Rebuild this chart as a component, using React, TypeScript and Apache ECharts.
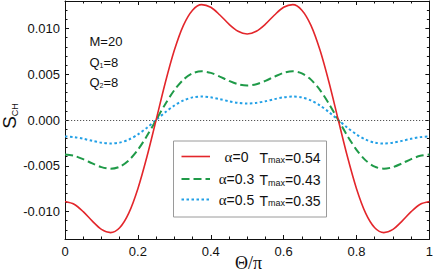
import React, { useEffect, useRef } from "react";
import * as echarts from "echarts";

const theta = [
  0, 0.025, 0.05, 0.075, 0.1, 0.125, 0.15, 0.175, 0.2, 0.225, 0.25,
  0.275, 0.3, 0.325, 0.35, 0.375, 0.4, 0.425, 0.45, 0.475, 0.5,
  0.525, 0.55, 0.575, 0.6, 0.625, 0.65, 0.675, 0.7, 0.725, 0.75,
  0.775, 0.8, 0.825, 0.85, 0.875, 0.9, 0.925, 0.95, 0.975, 1,
];

const sAlpha0 = [
  -0.0089, -0.0092, -0.01001, -0.01105, -0.01195, -0.0123, -0.01177, -0.01017, -0.0075, -0.00399, 0,
  0.00404, 0.00761, 0.01034, 0.012, 0.0126, 0.01231, 0.01147, 0.01047, 0.00969, 0.0094,
  0.00969, 0.01047, 0.01147, 0.01231, 0.0126, 0.012, 0.01034, 0.00761, 0.00404, 0,
  -0.00399, -0.0075, -0.01017, -0.01177, -0.0123, -0.01195, -0.01105, -0.01001, -0.0092, -0.0089,
];

const sAlpha03 = [
  -0.00378, -0.00391, -0.00428, -0.00474, -0.00515, -0.00532, -0.0051, -0.00441, -0.00326, -0.00173, 0,
  0.00173, 0.00326, 0.00441, 0.0051, 0.00532, 0.00515, 0.00474, 0.00428, 0.00391, 0.00378,
  0.00391, 0.00428, 0.00474, 0.00515, 0.00532, 0.0051, 0.00441, 0.00326, 0.00173, 0,
  -0.00173, -0.00326, -0.00441, -0.0051, -0.00532, -0.00515, -0.00474, -0.00428, -0.00391, -0.00378,
];

const sAlpha05 = [
  -0.0018, -0.00187, -0.00205, -0.00228, -0.00248, -0.00257, -0.00247, -0.00214, -0.00158, -0.00084, 0,
  0.00084, 0.00158, 0.00214, 0.00247, 0.00257, 0.00248, 0.00228, 0.00205, 0.00187, 0.0018,
  0.00187, 0.00205, 0.00228, 0.00248, 0.00257, 0.00247, 0.00214, 0.00158, 0.00084, 0,
  -0.00084, -0.00158, -0.00214, -0.00247, -0.00257, -0.00248, -0.00228, -0.00205, -0.00187, -0.0018,
];

const yMajorTicks = [-0.01, -0.005, 0, 0.005, 0.01];
const yMinorTicks = [
  -0.013, -0.012, -0.011, -0.009, -0.008, -0.007, -0.006, -0.004, -0.003, -0.002, -0.001,
  0.001, 0.002, 0.003, 0.004, 0.006, 0.007, 0.008, 0.009, 0.011, 0.012, 0.013,
];

const legendItems = [
  { alpha: "0", tmax: "0.54", color: "#e3262b", type: "solid" as any, width: 1.6 },
  { alpha: "0.3", tmax: "0.43", color: "#1f9a48", type: [8, 4] as any, width: 2 },
  { alpha: "0.5", tmax: "0.35", color: "#22a0e6", type: [2.5, 2.5] as any, width: 2 },
];
const seriesData = [sAlpha0, sAlpha03, sAlpha05];

const SANS = "'Liberation Sans', Arial, sans-serif";
const SERIF = "'Liberation Serif', 'Times New Roman', serif";

export default function App() {
  const ref = useRef<HTMLDivElement>(null);

  useEffect(() => {
    if (!ref.current) return;
    const chart = echarts.init(ref.current, undefined, { renderer: "svg" });

    const yBase = (position: string, ticks: number[], len: number, showLine: boolean, labels: boolean) => ({
      type: "value",
      position,
      min: -0.013,
      max: 0.013,
      splitLine: { show: false },
      axisLine: { show: showLine, onZero: false, lineStyle: { color: "#111", width: 1 } },
      axisTick: { show: true, inside: true, length: len, customValues: ticks, lineStyle: { color: "#111", width: 1 } },
      axisLabel: labels
        ? {
            show: true,
            customValues: yMajorTicks,
            margin: 5,
            fontSize: 13,
            fontFamily: SANS,
            color: "#111",
            formatter: (v: number) => v.toFixed(3),
          }
        : { show: false },
    });

    const xBase = (position: string, labels: boolean) => ({
      type: "value",
      position,
      min: 0,
      max: 1,
      interval: 0.2,
      splitLine: { show: false },
      axisLine: { show: true, onZero: false, lineStyle: { color: "#111", width: 1 } },
      axisTick: { show: true, inside: true, length: 4, lineStyle: { color: "#111", width: 1 } },
      minorTick: { show: true, splitNumber: 4, length: 2.5, lineStyle: { color: "#111", width: 1 } },
      axisLabel: labels
        ? {
            show: true,
            margin: 6,
            fontSize: 13,
            fontFamily: SANS,
            color: "#111",
            formatter: (v: number) => (v === 0 ? "0" : v === 1 ? "1" : v.toFixed(1)),
          }
        : { show: false },
    });

    const graphic: any[] = [
      {
        type: "text",
        x: 9,
        y: 116,
        rotation: Math.PI / 2,
        style: {
          text: "{s|S}{c|CH}",
          textAlign: "center",
          textVerticalAlign: "middle",
          fill: "#111",
          rich: {
            s: { fontSize: 19, fontFamily: SANS, fill: "#111", verticalAlign: "bottom", lineHeight: 20 },
            c: { fontSize: 9, fontFamily: SANS, fill: "#111", verticalAlign: "bottom", lineHeight: 14 },
          },
        },
      },
      {
        type: "text",
        x: 248.5,
        y: 263,
        style: {
          text: "Θ/π",
          textAlign: "center",
          textVerticalAlign: "middle",
          fontSize: 18,
          fontFamily: SERIF,
          fill: "#111",
        },
      },
      {
        type: "text",
        x: 89.5,
        y: 41,
        style: { text: "M=20", textVerticalAlign: "middle", fontSize: 13, fontFamily: SANS, fill: "#111" },
      },
      {
        type: "text",
        x: 89.5,
        y: 61,
        style: {
          text: "{t|Q}{s|1}{t|=8}",
          textVerticalAlign: "middle",
          fill: "#111",
          rich: {
            t: { fontSize: 13, fontFamily: SANS, fill: "#111", verticalAlign: "bottom", lineHeight: 15 },
            s: { fontSize: 7, fontFamily: SANS, fill: "#111", verticalAlign: "bottom", lineHeight: 9 },
          },
        },
      },
      {
        type: "text",
        x: 89.5,
        y: 81,
        style: {
          text: "{t|Q}{s|2}{t|=8}",
          textVerticalAlign: "middle",
          fill: "#111",
          rich: {
            t: { fontSize: 13, fontFamily: SANS, fill: "#111", verticalAlign: "bottom", lineHeight: 15 },
            s: { fontSize: 7, fontFamily: SANS, fill: "#111", verticalAlign: "bottom", lineHeight: 9 },
          },
        },
      },
      {
        type: "rect",
        shape: { x: 173.5, y: 141, width: 153, height: 76 },
        style: { fill: "#fff", stroke: "#9a9a9a", lineWidth: 1 },
        z: 10,
      },
    ];

    const rowY = [156.5, 179, 199.5];
    legendItems.forEach((it, i) => {
      graphic.push({
        type: "line",
        shape: { x1: 181.5, y1: rowY[i], x2: 210, y2: rowY[i] },
        style: { stroke: it.color, lineWidth: it.width, lineDash: it.type === "solid" ? null : it.type },
        z: 11,
      });
      graphic.push({
        type: "text",
        x: 236.5,
        y: rowY[i],
        z: 11,
        style: {
          text: "{a|α}{b|=" + it.alpha + "}",
          textAlign: "center",
          textVerticalAlign: "middle",
          fill: "#111",
          rich: {
            a: { fontSize: 15, fontFamily: SERIF, fill: "#111" },
            b: { fontSize: 14, fontFamily: SANS, fill: "#111" },
          },
        },
      });
      graphic.push({
        type: "text",
        x: 259.5,
        y: rowY[i],
        z: 11,
        style: {
          text: "{t|T}{s|max}{t|=" + it.tmax + "}",
          textAlign: "left",
          textVerticalAlign: "middle",
          fill: "#111",
          rich: {
            t: { fontSize: 14, fontFamily: SANS, fill: "#111", verticalAlign: "bottom", lineHeight: 16 },
            s: { fontSize: 9, fontFamily: SANS, fill: "#111", verticalAlign: "bottom", lineHeight: 11 },
          },
        },
      });
    });

    const series: any[] = legendItems.map((it, i) => ({
      type: "line",
      xAxisIndex: 0,
      yAxisIndex: 0,
      data: theta.map((t, j) => [t, seriesData[i][j]]),
      smooth: 0.3,
      showSymbol: false,
      symbol: "none",
      lineStyle: { color: it.color, width: it.width, type: it.type },
      z: 3 - i,
    }));
    series[0].markLine = {
      silent: true,
      symbol: ["none", "none"],
      label: { show: false },
      lineStyle: { color: "#555", width: 1, type: [1.2, 1.8] },
      data: [{ yAxis: 0 }],
    };

    chart.setOption({
      animation: false,
      backgroundColor: "#fff",
      grid: { left: 65, right: 4, top: 1, bottom: 37, containLabel: false },
      xAxis: [xBase("bottom", true), xBase("top", false)],
      yAxis: [
        yBase("left", yMajorTicks, 4, true, true),
        yBase("left", yMinorTicks, 2.5, false, false),
        yBase("right", yMajorTicks, 4, true, false),
        yBase("right", yMinorTicks, 2.5, false, false),
      ],
      series,
      graphic,
    });

    return () => chart.dispose();
  }, []);

  return (
    <div
      ref={ref}
      style={{ position: "fixed", left: 0, top: 0, width: 436, height: 276, background: "#fff" }}
    />
  );
}
